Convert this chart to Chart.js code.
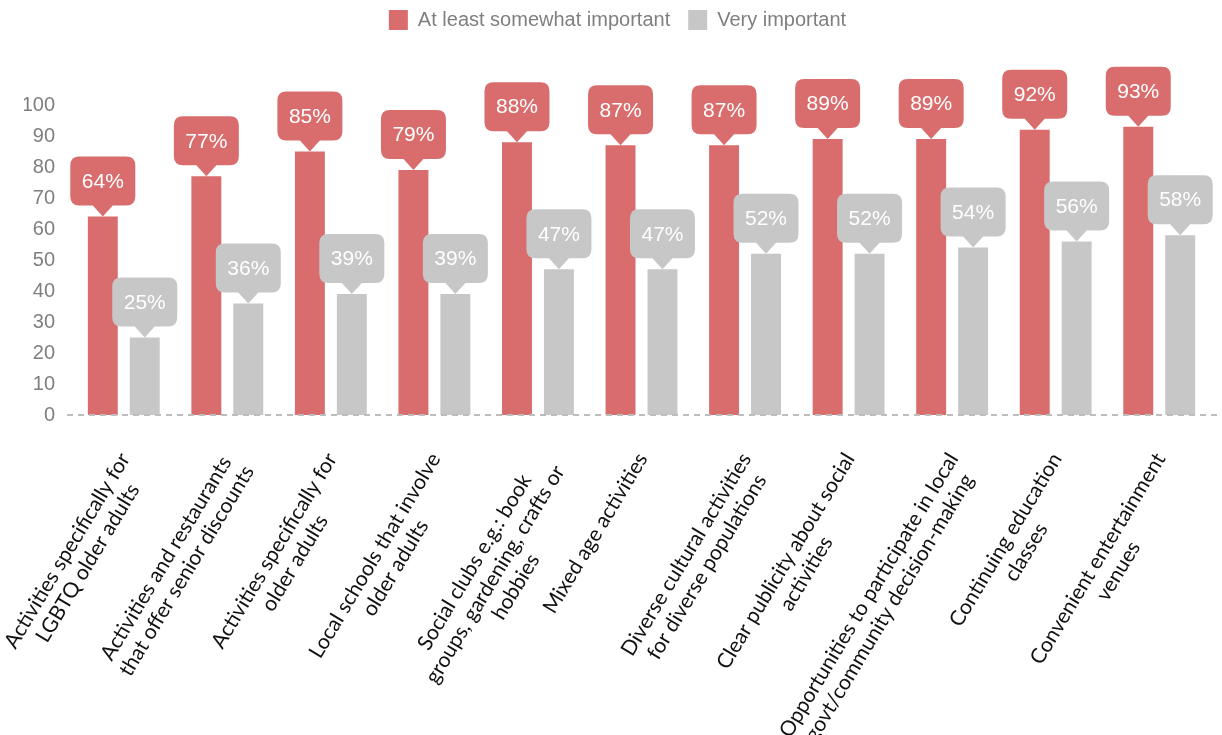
<!DOCTYPE html>
<html>
<head>
<meta charset="utf-8">
<script src="https://cdn.jsdelivr.net/npm/chart.js@4/dist/chart.umd.min.js"></script>
<style>
  body { margin: 0; background: #fff; }
  #wrap { width: 1222px; height: 735px; }
</style>
</head>
<body>
<div id="wrap"><canvas id="chart"></canvas></div>
<script>
const categories = [
    ['Activities specifically for', 'LGBTQ older adults'],
    ['Activities and restaurants', 'that offer senior discounts'],
    ['Activities specifically for', 'older adults'],
    ['Local schools that involve', 'older adults'],
    ['Social clubs e.g.: book', 'groups, gardening, crafts or', 'hobbies'],
    ['Mixed age activities'],
    ['Diverse cultural activities', 'for diverse populations'],
    ['Clear publicity about social', 'activities'],
    ['Opportunities to participate in local', 'govt/community decision-making'],
    ['Continuing education', 'classes'],
    ['Convenient entertainment', 'venues']
];
const somewhatImportant = [64, 77, 85, 79, 88, 87, 87, 89, 89, 92, 93];
const veryImportant = [25, 36, 39, 39, 47, 47, 52, 52, 54, 56, 58];
const yTicks = [0, 10, 20, 30, 40, 50, 60, 70, 80, 90, 100];

const RED = '#D96D6D';
const GRAY = '#C7C7C7';

// leave room under the legend for the callouts
const legendGap = {
    id: 'legendGap',
    beforeInit(chart) {
        const fit = chart.legend.fit;
        chart.legend.fit = function () {
            fit.bind(chart.legend)();
            this.height += 65;
        };
    }
};

// dashed zero line, drawn over the bars
const baseline = {
    id: 'baseline',
    afterDatasetsDraw(chart) {
        const ctx = chart.ctx;
        const y = chart.scales.y.getPixelForValue(0);
        ctx.save();
        ctx.strokeStyle = '#bdbdbd';
        ctx.lineWidth = 2;
        ctx.setLineDash([6, 5]);
        ctx.beginPath();
        ctx.moveTo(chart.chartArea.left - 5, y);
        ctx.lineTo(chart.width, y);
        ctx.stroke();
        ctx.restore();
    }
};

// speech-bubble value labels above each bar
const callouts = {
    id: 'callouts',
    afterDatasetsDraw(chart) {
        const ctx = chart.ctx;
        const w = 65, h = 49, r = 9, tip = 11, half = 10;
        chart.data.datasets.forEach((ds, di) => {
            chart.getDatasetMeta(di).data.forEach((bar, i) => {
                const x = bar.x, yTip = bar.y;
                const bottom = yTip - tip, top = bottom - h;
                const left = x - w / 2, right = x + w / 2;
                ctx.save();
                ctx.fillStyle = ds.backgroundColor;
                ctx.beginPath();
                ctx.moveTo(left + r, top);
                ctx.lineTo(right - r, top);
                ctx.quadraticCurveTo(right, top, right, top + r);
                ctx.lineTo(right, bottom - r);
                ctx.quadraticCurveTo(right, bottom, right - r, bottom);
                ctx.lineTo(x + half, bottom);
                ctx.lineTo(x, yTip);
                ctx.lineTo(x - half, bottom);
                ctx.lineTo(left + r, bottom);
                ctx.quadraticCurveTo(left, bottom, left, bottom - r);
                ctx.lineTo(left, top + r);
                ctx.quadraticCurveTo(left, top, left + r, top);
                ctx.closePath();
                ctx.fill();
                ctx.fillStyle = '#fff';
                ctx.font = '21px "Liberation Sans", Arial, sans-serif';
                ctx.textAlign = 'center';
                ctx.textBaseline = 'middle';
                ctx.fillText(ds.data[i] + '%', x, top + h / 2 + 1);
                ctx.restore();
            });
        });
    }
};

// rotated, centre-aligned multi-line category labels
const xLabels = {
    id: 'xLabels',
    afterDraw(chart) {
        const ctx = chart.ctx;
        const xs = chart.scales.x;
        const angle = 59 * Math.PI / 180;
        const lh = 24;
        ctx.save();
        ctx.font = '21px Lato, sans-serif';
        ctx.fillStyle = '#111';
        ctx.textAlign = 'center';
        ctx.textBaseline = 'middle';
        categories.forEach((lines, i) => {
            const x = xs.getPixelForTick(i);
            const maxW = Math.max(...lines.map(l => ctx.measureText(l).width));
            ctx.save();
            ctx.translate(x + 1, chart.chartArea.bottom + 40);
            ctx.rotate(-angle);
            lines.forEach((line, j) => {
                ctx.fillText(line, -maxW / 2, j * lh);
            });
            ctx.restore();
        });
        ctx.restore();
    }
};

new Chart(document.getElementById('chart').getContext('2d'), {
    type: 'bar',
    data: {
        labels: categories,
        datasets: [{
            label: 'At least somewhat important',
            backgroundColor: RED,
            data: somewhatImportant,
            categoryPercentage: 0.81,
            barPercentage: 0.714
        }, {
            label: 'Very important',
            backgroundColor: GRAY,
            data: veryImportant,
            categoryPercentage: 0.81,
            barPercentage: 0.714
        }]
    },
    options: {
        responsive: true,
        maintainAspectRatio: false,
        animation: false,
        layout: {
            padding: {left: 24, right: 11, top: -8, bottom: 312}
        },
        plugins: {
            tooltip: {enabled: false},
            legend: {
                position: 'top',
                labels: {
                    boxWidth: 19,
                    boxHeight: 20,
                    padding: 18,
                    color: '#7f7f7f',
                    font: {family: '"Liberation Sans", Arial, sans-serif', size: 20}
                }
            }
        },
        scales: {
            x: {
                grid: {display: false},
                border: {display: false},
                ticks: {display: false}
            },
            y: {
                min: 0,
                max: 100,
                afterBuildTicks(scale) {
                    scale.ticks = yTicks.map(v => ({value: v}));
                },
                afterFit(scale) {
                    scale.width = 48;
                },
                grid: {display: false, drawTicks: false},
                border: {display: false},
                ticks: {
                    padding: 17,
                    color: '#7f7f7f',
                    font: {family: '"Liberation Sans", Arial, sans-serif', size: 20}
                }
            }
        }
    },
    plugins: [legendGap, baseline, callouts, xLabels]
});
</script>
</body>
</html>
